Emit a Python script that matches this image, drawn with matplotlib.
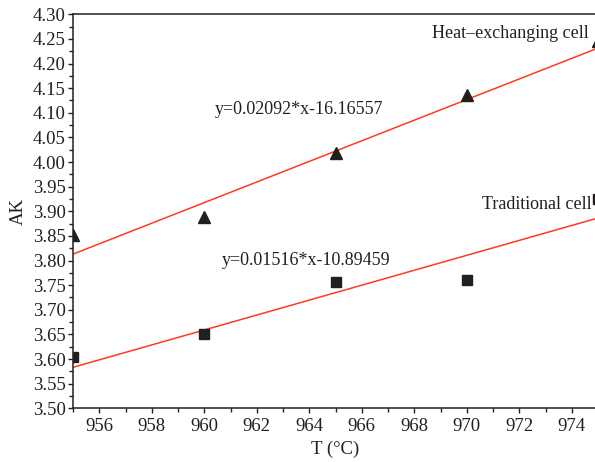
import matplotlib
matplotlib.use("Agg")
import matplotlib.pyplot as plt
from matplotlib.ticker import MultipleLocator
import numpy as np

# measured AK versus bath temperature
temps = [955, 960, 965, 970, 975]
ak_heat = [3.852, 3.889, 4.018, 4.136, 4.245]
ak_trad = [3.604, 3.651, 3.756, 3.761, 3.925]

# linear fits
fit_heat = (0.02092, -16.16557)
fit_trad = (0.01516, -10.89459)

plt.rcParams['font.family'] = ['Liberation Serif', 'DejaVu Serif']
ink = '#231f20'
red = '#ff3b1f'

fig = plt.figure(figsize=(5.95, 4.62), dpi=100)
ax = fig.add_axes([73 / 595, 1 - 408.3 / 462, 525 / 595, 394 / 462])

xs = np.array([955, 975])
ax.plot(xs, fit_heat[0] * xs + fit_heat[1], color=red, lw=1.1, zorder=2)
ax.plot(xs, fit_trad[0] * xs + fit_trad[1], color=red, lw=1.1, zorder=2)

ax.plot(temps, ak_heat, linestyle='none', marker='^', ms=9, color=ink, zorder=3)
ax.plot(temps, ak_trad, linestyle='none', marker='s', ms=7, color=ink, zorder=3)

# series names sit just left of the last point of each set
ax.annotate('Heat\u2013exchanging cell', xy=(975, 4.262), xytext=(-9, 0),
            textcoords='offset pixels', ha='right', va='center', color=ink, fontsize=13)
ax.annotate('Traditional cell', xy=(975, 3.913), xytext=(-6, 0),
            textcoords='offset pixels', ha='right', va='center', color=ink, fontsize=13)
ax.text(960.41, 4.106, 'y=0.02092*x-16.16557', ha='left', va='center', color=ink, fontsize=13)
ax.text(960.68, 3.801, 'y=0.01516*x-10.89459', ha='left', va='center', color=ink, fontsize=13)

ax.set_xlim(955, 975)
ax.set_ylim(3.50, 4.30)
ax.set_xticks([956, 958, 960, 962, 964, 966, 968, 970, 972, 974])
ax.xaxis.set_minor_locator(MultipleLocator(1))
ax.yaxis.set_major_locator(MultipleLocator(0.05))
ax.yaxis.set_minor_locator(MultipleLocator(0.025))
ax.yaxis.set_major_formatter(plt.FormatStrFormatter('%.2f'))

ax.tick_params(which='major', direction='out', length=3.8, width=1, colors=ink, labelsize=13.5)
ax.tick_params(axis='y', which='major', pad=1.5)
ax.tick_params(axis='x', which='major', pad=3.5)
ax.tick_params(which='minor', direction='out', length=3, width=1, colors=ink)
ax.tick_params(top=False, right=False, which='both')
for side in ax.spines.values():
    side.set_color(ink)
    side.set_linewidth(1.1)

ax.set_xlabel('T (\u00b0C)', color=ink, fontsize=13.5, labelpad=4)
ax.set_ylabel('AK', color=ink, fontsize=13.5, labelpad=4)

fig.savefig('out.png', dpi=100)
